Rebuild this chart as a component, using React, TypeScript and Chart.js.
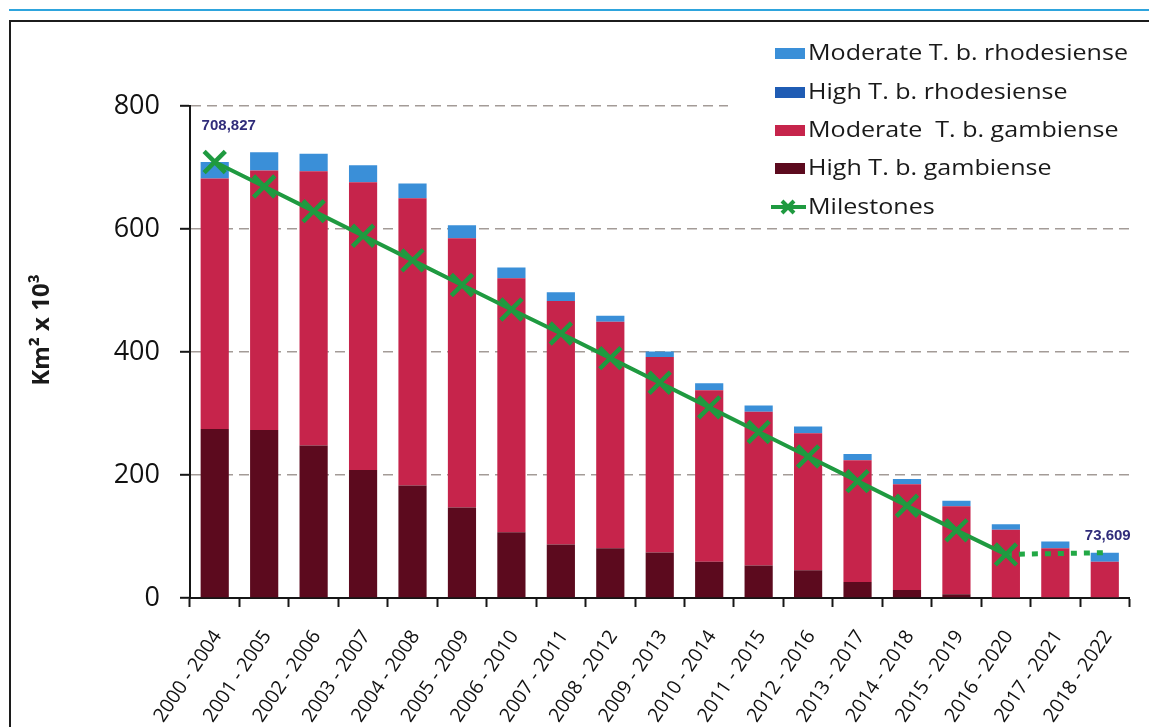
import { useEffect, useRef } from "react";
import { Chart, registerables } from "chart.js";

Chart.register(...registerables);

// Five-year reporting periods on the category axis
const periods = [
  "2000 - 2004", "2001 - 2005", "2002 - 2006", "2003 - 2007", "2004 - 2008",
  "2005 - 2009", "2006 - 2010", "2007 - 2011", "2008 - 2012", "2009 - 2013",
  "2010 - 2014", "2011 - 2015", "2012 - 2016", "2013 - 2017", "2014 - 2018",
  "2015 - 2019", "2016 - 2020", "2017 - 2021", "2018 - 2022",
];

// Areas at risk, km² × 10³ (stacked bottom to top)
const highGambiense = [275, 273, 248, 208, 183, 147, 107, 87, 81, 74, 59, 53, 45, 26, 13, 6, 1, 0, 0];
const moderateGambiense = [407, 422, 446, 468, 467, 438, 413, 396, 368, 318, 279, 250, 223, 198, 172, 143, 110, 81, 59];
const highRhodesiense = [0, 0, 0, 0, 0, 0, 0, 0, 0, 0, 0, 0, 0, 0, 0, 0, 0, 0, 0];
const moderateRhodesiense = [26.827, 30, 28.5, 27.5, 24, 21, 17.5, 14, 10, 9, 11, 10, 11, 10, 8.6, 9, 9, 10.7, 14.609];

// Elimination milestones and the post-2020 extension
const milestones = [708.827, 669, 629, 589, 549, 509, 469, 430, 390, 350, 310, 270, 230, 190, 150, 110, 70.9, null, null];
const milestoneExtension = [null, null, null, null, null, null, null, null, null, null, null, null, null, null, null, null, 70.9, null, 73.609];

const yTicks = [0, 200, 400, 600, 800];

const COLORS = {
  moderateRhodesiense: "#3a8fd8",
  highRhodesiense: "#1f5cb4",
  moderateGambiense: "#c6244b",
  highGambiense: "#5c0a1e",
  milestone: "#1f9a40",
  valueLabel: "#302c7a",
  grid: "#a39b97",
  axis: "#161616",
};

const FONT = "'Open Sans', Lato, sans-serif";

const totals = periods.map(
  (_, i) => highGambiense[i] + moderateGambiense[i] + highRhodesiense[i] + moderateRhodesiense[i]
);

const fmt = (v: number) => Math.round(v * 1000).toLocaleString("en-US");

const legendItems = [
  { label: "Moderate T. b. rhodesiense", color: COLORS.moderateRhodesiense, kind: "box" },
  { label: "High T. b. rhodesiense", color: COLORS.highRhodesiense, kind: "box" },
  { label: "Moderate  T. b. gambiense", color: COLORS.moderateGambiense, kind: "box" },
  { label: "High T. b. gambiense", color: COLORS.highGambiense, kind: "box" },
  { label: "Milestones", color: COLORS.milestone, kind: "line" },
];

// Legend text runs from x=808 to x=1128 for the widest entry
const LEGEND_TEXT_LEFT = 808;
const LEGEND_TEXT_WIDTH = 320;

const legendPlugin = {
  id: "cornerLegend",
  afterDraw(chart: any) {
    const ctx = chart.ctx as CanvasRenderingContext2D;
    ctx.save();
    ctx.fillStyle = "#ffffff";
    ctx.fillRect(728, 30, 418, 192);
    const rows = [53, 92, 130, 168, 207];
    ctx.font = `22px ${FONT}`;
    ctx.textBaseline = "middle";
    ctx.textAlign = "left";
    const widest = Math.max(...legendItems.map((it) => ctx.measureText(it.label).width));
    const stretch = LEGEND_TEXT_WIDTH / widest;
    legendItems.forEach((item, i) => {
      const y = rows[i];
      if (item.kind === "box") {
        ctx.fillStyle = item.color;
        ctx.fillRect(775, y - 5, 30, 11);
      } else {
        ctx.strokeStyle = item.color;
        ctx.lineWidth = 4;
        ctx.beginPath();
        ctx.moveTo(771, y);
        ctx.lineTo(806, y);
        ctx.stroke();
        const cx = 788;
        const r = 6;
        ctx.beginPath();
        ctx.moveTo(cx - r, y - r);
        ctx.lineTo(cx + r, y + r);
        ctx.moveTo(cx + r, y - r);
        ctx.lineTo(cx - r, y + r);
        ctx.stroke();
      }
      ctx.save();
      ctx.translate(LEGEND_TEXT_LEFT, y + 1);
      ctx.scale(stretch, 1);
      ctx.fillStyle = "#1a1a1a";
      ctx.fillText(item.label, 0, 0);
      ctx.restore();
    });
    ctx.restore();
  },
};

const titlePlugin = {
  id: "yTitle",
  afterDraw(chart: any) {
    const ctx = chart.ctx as CanvasRenderingContext2D;
    ctx.save();
    ctx.translate(42, 330);
    ctx.rotate(-Math.PI / 2);
    ctx.font = `bold 24px ${FONT}`;
    ctx.fillStyle = "#1a1a1a";
    ctx.textAlign = "center";
    ctx.textBaseline = "middle";
    ctx.fillText("Km\u00b2 x 10\u00b3", 0, 0);
    ctx.restore();
  },
};

const valueLabelPlugin = {
  id: "valueLabels",
  afterDatasetsDraw(chart: any) {
    const ctx = chart.ctx as CanvasRenderingContext2D;
    const x = chart.scales.x;
    const y = chart.scales.y;
    ctx.save();
    ctx.font = `bold 15px 'Liberation Sans', Arial, sans-serif`;
    ctx.fillStyle = COLORS.valueLabel;
    ctx.textAlign = "center";
    ctx.textBaseline = "middle";
    const first = 0;
    ctx.fillText(fmt(totals[first]), x.getPixelForValue(first) + 14, y.getPixelForValue(totals[first]) - 36);
    const last = periods.length - 1;
    ctx.fillText(fmt(totals[last]), x.getPixelForValue(last) + 3, y.getPixelForValue(totals[last]) - 17);
    ctx.restore();
  },
};

function TrypanosomiasisChart() {
  const canvasRef = useRef<HTMLCanvasElement | null>(null);

  useEffect(() => {
    let chart: Chart | null = null;
    let cancelled = false;
    const build = () => {
      if (cancelled || !canvasRef.current) return;
      chart = new Chart(canvasRef.current, {
        type: "bar",
        data: {
          labels: periods,
          datasets: [
            { type: "bar", label: "High T. b. gambiense", data: highGambiense, backgroundColor: COLORS.highGambiense, stack: "areas", order: 2 },
            { type: "bar", label: "Moderate  T. b. gambiense", data: moderateGambiense, backgroundColor: COLORS.moderateGambiense, stack: "areas", order: 2 },
            { type: "bar", label: "High T. b. rhodesiense", data: highRhodesiense, backgroundColor: COLORS.highRhodesiense, stack: "areas", order: 2 },
            { type: "bar", label: "Moderate T. b. rhodesiense", data: moderateRhodesiense, backgroundColor: COLORS.moderateRhodesiense, stack: "areas", order: 2 },
            {
              type: "line", label: "Milestones", data: milestones as any, stack: "milestones", order: 0,
              borderColor: COLORS.milestone, borderWidth: 4, tension: 0,
              pointStyle: "crossRot", pointRadius: 15, pointBorderWidth: 4.5,
              pointBorderColor: COLORS.milestone, pointBackgroundColor: COLORS.milestone,
            },
            {
              type: "line", label: "Extension", data: milestoneExtension as any, stack: "extension", order: 1,
              borderColor: "#22a845", borderWidth: 5, borderDash: [6, 7], pointRadius: 0, spanGaps: true,
            },
          ] as any,
        },
        options: {
          responsive: true,
          maintainAspectRatio: false,
          animation: false,
          layout: { padding: { top: 106, right: 16, bottom: 0, left: 0 } },
          datasets: { bar: { barPercentage: 0.57, categoryPercentage: 1, borderWidth: 0 } } as any,
          plugins: { legend: { display: false }, tooltip: { enabled: false } },
          scales: {
            x: {
              stacked: true,
              grid: { display: true, offset: true, drawOnChartArea: false, drawTicks: true, tickLength: 9, tickColor: COLORS.axis, tickWidth: 2 },
              border: { display: true, color: COLORS.axis, width: 2 },
              ticks: { autoSkip: false, minRotation: 56, maxRotation: 56, color: "#111", padding: 19, labelOffset: 3, font: { family: FONT, size: 19.5 } },
              afterFit: (s: any) => { s.height = 129; },
            },
            y: {
              stacked: true,
              min: 0,
              max: 800,
              afterBuildTicks: (s: any) => { s.ticks = yTicks.map((v) => ({ value: v })); },
              grid: {
                color: (c: any) => (c.tick && c.tick.value === 0 ? "rgba(0,0,0,0)" : COLORS.grid),
                lineWidth: 1.6, drawTicks: true, tickLength: 10, tickColor: COLORS.axis, tickWidth: 2,
              },
              border: { display: true, color: COLORS.axis, width: 2, dash: [10, 6] },
              ticks: { color: "#111", padding: 20, font: { family: FONT, size: 27 } },
              afterFit: (s: any) => { s.width = 190; },
            },
          },
        } as any,
        plugins: [valueLabelPlugin, legendPlugin, titlePlugin],
      });
    };
    const fontsReady = (document as any).fonts
      ? Promise.all([
          (document as any).fonts.load(`22px 'Open Sans'`),
          (document as any).fonts.load(`bold 24px 'Open Sans'`),
          (document as any).fonts.load(`bold 15px 'Liberation Sans'`),
        ]).catch(() => undefined)
      : Promise.resolve();
    fontsReady.then(build);
    return () => {
      cancelled = true;
      if (chart) chart.destroy();
    };
  }, []);

  return (
    <div style={{ position: "fixed", left: 0, top: 0, width: 1149, height: 727, background: "#ffffff", overflow: "hidden" }}>
      <div style={{ position: "absolute", left: 9, top: 9, width: 1140, height: 2, background: "#2ea4dd" }} />
      <div style={{ position: "absolute", left: 9, top: 20, width: 1140, height: 707, borderTop: "2px solid #1c1c1c", borderLeft: "2px solid #1c1c1c", boxSizing: "border-box" }} />
      <div style={{ position: "absolute", left: 0, top: 0, width: 1149, height: 727 }}>
        <canvas ref={canvasRef} />
      </div>
    </div>
  );
}

export default function App() {
  return <TrypanosomiasisChart />;
}
